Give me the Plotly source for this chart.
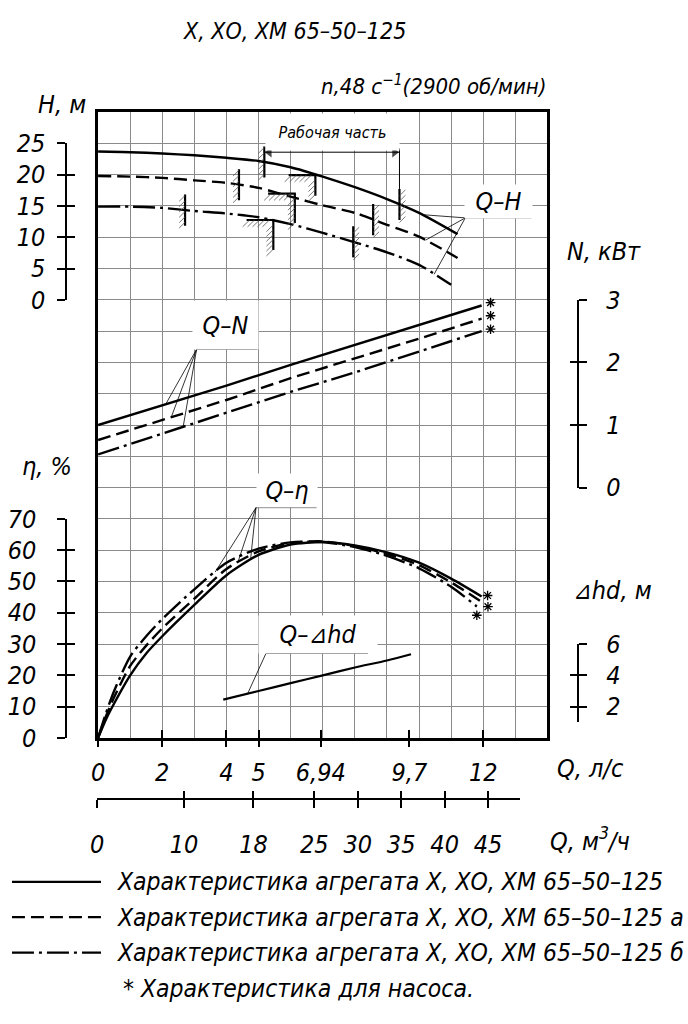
import numpy as np
import plotly.graph_objects as go

# ---------------- data ----------------
SERIES = ["Характеристика агрегата Х, ХО, ХМ 65–50–125",
          "Характеристика агрегата Х, ХО, ХМ 65–50–125 а",
          "Характеристика агрегата Х, ХО, ХМ 65–50–125 б"]

# Q-H  (Q, l/s ; H, m)
Q_H_1 = [0, 1, 2, 3, 4, 5, 6, 7, 8, 9, 10, 11.2]
H_1 = [23.7, 23.6, 23.4, 23.1, 22.7, 22.2, 21.2, 19.7, 18.0, 16.1, 13.9, 10.5]
Q_H_2 = [0, 1, 2, 3, 4, 5, 6, 7, 8, 9, 10, 11.2]
H_2 = [19.8, 19.7, 19.5, 19.1, 18.7, 17.9, 16.5, 15.1, 13.9, 12.0, 10.1, 6.7]
Q_H_3 = [0, 1, 2, 3, 4, 5, 6, 7, 8, 9, 10, 11]
H_3 = [14.9, 14.9, 14.7, 14.2, 13.8, 13.2, 12.1, 10.7, 9.2, 7.6, 5.6, 2.4]

# Q-N  (kW)
Q_N = [0, 2, 4, 6, 8, 10, 11.95]
N_1 = [1.00, 1.31, 1.63, 1.96, 2.28, 2.60, 2.91]
N_2 = [0.76, 1.08, 1.40, 1.75, 2.06, 2.38, 2.70]
N_3 = [0.53, 0.86, 1.19, 1.53, 1.84, 2.17, 2.50]

# Q-eta (%)
Q_ETA_1 = [0, 0.25, 0.5, 1, 1.5, 2, 3, 4, 5, 6, 7, 8, 9, 10, 11, 11.95]
ETA_1 = [0, 6, 11, 20, 27, 32.5, 42.5, 52, 58.5, 61.8, 62.6, 61.5, 59.3, 56, 50.9, 45.2]
Q_ETA_2 = [0, 0.25, 0.5, 1, 1.5, 2, 3, 4, 5, 6, 7, 8, 9, 10, 11, 11.9]
ETA_2 = [0, 7, 13, 23, 29.5, 35, 44.5, 54, 59.6, 62.3, 62.8, 61.3, 58.8, 55.2, 49.7, 43.8]
Q_ETA_3 = [0, 0.25, 0.5, 1, 1.5, 2, 3, 4, 5, 6, 7, 8, 9, 10, 11, 11.8]
ETA_3 = [0, 8, 15, 26, 32.5, 38, 47.5, 56, 60.5, 62.5, 62.6, 61.0, 58.2, 54.2, 48.3, 42.0]

# Q-dhd (m)
Q_DHD = [3.9, 5, 6, 7, 8, 9, 9.75]
DHD = [2.45, 3.0, 3.5, 4.0, 4.5, 4.95, 5.35]

# working range limits on the Q-H curves (l/s)
WORK_START = [5.18, 4.39, 2.71]
WORK_END = [9.39, 8.57, 7.95]
# limit brackets on the Q-H curves
LIMIT_Q = [6.77, 6.13, 5.46]
LIMIT_H = [19.95, 16.98, 12.76]
LIMIT_DROP = [3.3, 4.7, 4.8]

# tick values / labels
Q_LS_TICKS = [0, 2, 4, 5, 6.94, 9.7, 12]
Q_LS_TEXT = ["0", "2", "4", "5", "6,94", "9,7", "12"]
Q_M3_TICKS = [0, 10, 18, 25, 30, 35, 40, 45]
H_TICKS = [0, 5, 10, 15, 20, 25]
N_TICKS = [0, 1, 2, 3]
ETA_TICKS = [0, 10, 20, 30, 40, 50, 60, 70]
DHD_TICKS = [2, 4, 6]

# ---------------- helpers ----------------
W, HT = 688, 1024
FONT = "Liberation Sans Narrow, DejaVu Sans Condensed, Liberation Sans, sans-serif"


def px(x):
    return x / W


def py(y):
    return 1 - y / HT


ROW = (745 - 101) / 20.0          # grid cell height (px)
PXQ = (546 - 92) / 14.0           # px per l/s
PXH = ROW / 5.0                   # px per m of head
PXN = ROW * 2.0                   # px per kW
PXE = ROW / 10.0                  # px per % of efficiency


def dq(p):
    return p / PXQ


def dh(p):
    return p / PXH


def F(size=26):
    return dict(family=FONT, size=size, color="black", style="italic")


DASH = ["solid", "13px,6px", "22px,5px,3px,5px"]
GRID = "#8a8a8a"
Q_H = [Q_H_1, Q_H_2, Q_H_3]
H_ALL = [H_1, H_2, H_3]
N_ALL = [N_1, N_2, N_3]
Q_ETA = [Q_ETA_1, Q_ETA_2, Q_ETA_3]
ETA_ALL = [ETA_1, ETA_2, ETA_3]

fig = go.Figure()


def line(x, y, ya="y", xa="x", width=2.4, dash="solid", color="black", shape="linear", name=None):
    fig.add_trace(go.Scatter(x=x, y=y, xaxis=xa, yaxis=ya, mode="lines",
                             line=dict(color=color, width=width, dash=dash, shape=shape,
                                       smoothing=0.7 if shape == "spline" else None),
                             name=name, showlegend=False, hoverinfo="skip"))


# ---- main curves ----
for i in range(3):
    line(Q_H[i], H_ALL[i], "y", dash=DASH[i], shape="spline", name=SERIES[i])
    line(Q_N, N_ALL[i], "y2", dash=DASH[i], name=SERIES[i])
    line(Q_ETA[i], ETA_ALL[i], "y3", dash=DASH[i], shape="spline", name=SERIES[i])
line(Q_DHD, DHD, "y4", width=2.2, shape="spline", name="Q-Δhd")

# ---- working range markers with hatching ----
mx, my, hx, hy = [], [], [], []
for i in range(3):
    for q, side in ((WORK_START[i], -1), (WORK_END[i], 1)):
        hc = float(np.interp(q, Q_H[i], H_ALL[i]))
        mx += [q, q, None]
        my += [hc + dh(16), hc - dh(16), None]
        for k in range(6):
            yt = hc + dh(15) - k * dh(5.5)
            if side < 0:
                hx += [q - dq(6), q, None]
            else:
                hx += [q, q + dq(6), None]
            hy += [yt - dh(6), yt, None]
    # limit bracket
    lq, lh, dr = LIMIT_Q[i], LIMIT_H[i], LIMIT_DROP[i]
    mx += [lq - dq(27), lq + dq(1), None, lq, lq, None]
    my += [lh, lh, None, lh, lh - dr, None]
    for k in range(5):
        qk = lq - dq(24) + k * dq(5)
        hx += [qk - dq(7), qk, None]
        hy += [lh - dh(7), lh, None]
    nk = int(dr / dh(5))
    for k in range(1, nk + 1):
        hk = lh - k * dh(5)
        hx += [lq - dq(7), lq, None]
        hy += [hk - dh(7), hk, None]
line(mx, my, "y", width=2.2)
line(hx, hy, "y", width=0.8, color="#555")
# extension line of the working zone
hc_end = float(np.interp(WORK_END[0], Q_H_1, H_1))
line([WORK_END[0], WORK_END[0]], [24.2, hc_end + dh(16)], "y", width=1)
# dimension line "Рабочая часть" with arrowheads
DIM_H = 23.6
line([WORK_START[0], WORK_END[0]], [DIM_H, DIM_H], "y", width=1)
fig.add_trace(go.Scatter(x=[WORK_START[0] + dq(5), WORK_END[0] - dq(5)], y=[DIM_H, DIM_H],
                         xaxis="x", yaxis="y", mode="markers",
                         marker=dict(symbol=["triangle-left", "triangle-right"], size=[9, 9],
                                     color="black", line=dict(width=0)),
                         showlegend=False, hoverinfo="skip"))

# ---- leaders ----
lx, ly = [], []
# Q-H
apex = (11.44, 13.1)
lx += [13.5, apex[0], None]
ly += [apex[1], apex[1], None]
for i, q in enumerate([10.1, 10.2, 10.47]):
    lx += [apex[0], q, None]
    ly += [apex[1], float(np.interp(q, Q_H[i], H_ALL[i])), None]
line(lx, ly, "y", width=0.8)
# Q-N
lx, ly = [], []
apex = (3.07, 2.21)
lx += [4.97, apex[0], None]
ly += [apex[1], apex[1], None]
for i, q in enumerate([2.1, 2.28, 2.65]):
    lx += [apex[0], q, None]
    ly += [apex[1], float(np.interp(q, Q_N, N_ALL[i])), None]
line(lx, ly, "y2", width=0.8)
# Q-eta
lx, ly = [], []
apex = (4.92, 73.6)
lx += [6.81, apex[0], None]
ly += [apex[1], apex[1], None]
for i, q in enumerate([4.75, 4.35, 3.65]):
    lx += [apex[0], q, None]
    ly += [apex[1], float(np.interp(q, Q_ETA[i], ETA_ALL[i])), None]
line(lx, ly, "y3", width=0.8)
# Q-dhd
apex = (5.23, 5.4)
q = 4.66
line([8.41, apex[0], q], [apex[1], apex[1], float(np.interp(q, Q_DHD, DHD))], "y4", width=0.8)

# ---- stars (pump-only characteristic), placed next to the curve ends ----
STAR = dict(symbol="asterisk-open", size=8, color="black", line=dict(width=1.3, color="black"))
fig.add_trace(go.Scatter(x=[Q_N[-1] + dq(9)] * 3,
                         y=[N_1[-1] + 3 / PXN, N_2[-1] + 3 / PXN, N_3[-1] + 2 / PXN],
                         xaxis="x", yaxis="y2", mode="markers", marker=STAR,
                         showlegend=False, hoverinfo="skip"))
fig.add_trace(go.Scatter(x=[Q_ETA_1[-1] + dq(6), Q_ETA_2[-1] + dq(8), Q_ETA_3[-1]],
                         y=[ETA_1[-1] + 1 / PXE, ETA_2[-1] - 6 / PXE, ETA_3[-1] - 9 / PXE],
                         xaxis="x", yaxis="y3", mode="markers", marker=STAR,
                         showlegend=False, hoverinfo="skip"))

# ---- dummy traces so that scale axes get their own subplots ----
for xa, ya in [("x2", "y"), ("x3", "y"), ("x6", "y5"), ("x6", "y6"), ("x6", "y7"), ("x6", "y8"),
               ("x6", "y9"), ("x6", "y10"), ("x6", "y11"), ("x6", "y12"), ("x4", "y13"), ("x5", "y13")]:
    fig.add_trace(go.Scatter(x=[], y=[], xaxis=xa, yaxis=ya, showlegend=False, hoverinfo="skip"))

# ---- legend samples ----
for i in range(3):
    fig.add_trace(go.Scatter(x=[0, 1], y=[i, i], xaxis="x7", yaxis="y14", mode="lines",
                             line=dict(color="black", width=2.2, dash=DASH[i]),
                             showlegend=False, hoverinfo="skip"))

# ---------------- axes ----------------
NOAX = dict(showgrid=False, zeroline=False, fixedrange=True)


def scale_axes(dom, rng, tickvals, pos, side, standoff):
    base = dict(domain=dom, range=rng, anchor="free", position=pos, side=side, tickvals=tickvals,
                ticks="outside", ticklen=8, tickwidth=2, tickcolor="black", showline=True,
                linewidth=2, linecolor="black", tickfont=F(25), ticklabelstandoff=standoff, **NOAX)
    over = dict(range=rng, anchor="free", position=pos, side=side, tickvals=tickvals,
                ticks="inside", ticklen=8, tickwidth=2, tickcolor="black", showline=False,
                showticklabels=False, **NOAX)
    return base, over


ybot = 745
ys5, ys6 = scale_axes([py(ybot - 14 * ROW), py(ybot - 19 * ROW)], [0, 25], H_TICKS, px(60), "left", 7)
ys7, ys8 = scale_axes([py(ybot - 8 * ROW), py(ybot - 14 * ROW)], [0, 3], N_TICKS, px(577), "right", 14)
ys9, ys10 = scale_axes([py(ybot), py(ybot - 7 * ROW)], [0, 70], ETA_TICKS, px(60), "left", 16)
ys11, ys12 = scale_axes([py(ybot - 0.5 * ROW), py(ybot - 3 * ROW)], [1, 6], DHD_TICKS, px(577), "right", 14)
ys6["overlaying"] = "y5"
ys8["overlaying"] = "y7"
ys10["overlaying"] = "y9"
ys12["overlaying"] = "y11"

layout = dict(
    width=W, height=HT, margin=dict(l=0, r=0, t=0, b=0),
    paper_bgcolor="white", plot_bgcolor="rgba(0,0,0,0)", showlegend=False,
    xaxis=dict(domain=[px(92), px(546)], range=[0, 14], anchor="y", dtick=1, tick0=0,
               showgrid=True, gridcolor=GRID, gridwidth=1, showticklabels=False, ticks="",
               showline=True, linewidth=2.5, linecolor="black", mirror=True, zeroline=False, fixedrange=True),
    yaxis=dict(domain=[py(745), py(101)], range=[-70, 30], anchor="x", dtick=5, tick0=0,
               showgrid=True, gridcolor=GRID, gridwidth=1, showticklabels=False, ticks="",
               showline=True, linewidth=2.5, linecolor="black", mirror=True, zeroline=False, fixedrange=True),
    yaxis2=dict(overlaying="y", anchor="x", range=[-4, 6], visible=False, **NOAX),
    yaxis3=dict(overlaying="y", anchor="x", range=[0, 200], visible=False, **NOAX),
    yaxis4=dict(overlaying="y", anchor="x", range=[0, 40], visible=False, **NOAX),
    xaxis2=dict(overlaying="x", anchor="y", side="bottom", range=[0, 14], tickvals=Q_LS_TICKS,
                ticktext=Q_LS_TEXT, ticks="outside", ticklen=8, tickwidth=2, tickcolor="black",
                showline=False, tickfont=F(25), ticklabelstandoff=4, **NOAX),
    xaxis3=dict(overlaying="x", anchor="y", side="bottom", range=[0, 14], tickvals=Q_LS_TICKS,
                ticks="inside", ticklen=8, tickwidth=2, tickcolor="black", showline=False,
                showticklabels=False, **NOAX),
    xaxis4=dict(domain=[px(91), px(518.5)], range=[0, 48.7], anchor="free", position=py(808),
                side="bottom", tickvals=Q_M3_TICKS, ticks="outside", ticklen=8, tickwidth=2,
                tickcolor="black", showline=True, linewidth=2, linecolor="black",
                tickfont=F(25), ticklabelstandoff=15, **NOAX),
    xaxis5=dict(overlaying="x4", range=[0, 48.7], anchor="free", position=py(808), side="bottom",
                tickvals=Q_M3_TICKS, ticks="inside", ticklen=8, tickwidth=2, tickcolor="black",
                showline=False, showticklabels=False, **NOAX),
    xaxis6=dict(domain=[0.995, 1.0], range=[0, 1], anchor="y5", visible=False, **NOAX),
    yaxis5=ys5, yaxis6=ys6, yaxis7=ys7, yaxis8=ys8, yaxis9=ys9, yaxis10=ys10,
    yaxis11=ys11, yaxis12=ys12,
    yaxis13=dict(domain=[0, 0.005], range=[0, 1], anchor="x4", visible=False, **NOAX),
    xaxis7=dict(domain=[px(5), px(95)], range=[0, 1], anchor="y14", visible=False, **NOAX),
    yaxis14=dict(domain=[py(975), py(884)], range=[2.25, -0.25], anchor="x7", visible=False, **NOAX),
)
fig.update_layout(**layout)

# ---------------- texts ----------------
ann = []


def txt(x, y, text, size=26, xanchor="left", **kw):
    ann.append(dict(xref="paper", yref="paper", x=px(x), y=py(y), text=text, showarrow=False,
                    font=F(size), xanchor=xanchor, yanchor="middle", borderpad=0, **kw))


def box(x0, x1, y0, y1, text, size=26):
    ann.append(dict(xref="paper", yref="paper", x=px((x0 + x1) / 2), y=py((y0 + y1) / 2),
                    text=text, showarrow=False, font=F(size), xanchor="center", yanchor="middle",
                    bgcolor="white", width=x1 - x0, height=y1 - y0, borderpad=0, align="center",
                    valign="middle"))


txt(290, 18, "Х, ХО, ХМ 65–50–125", 23, xanchor="center")
txt(546, 73, "n,48 с<sup>−1</sup>(2900 об/мин)", 22, xanchor="right")
txt(30, 93, "Н, м", 25)
txt(565, 244, "N, кВт", 25)
txt(14, 466, "η, %", 25)
txt(571, 593, "⊿hd, м", 25)
txt(555, 776, "Q, л/с", 25)
txt(548, 850, "Q, м<sup>3</sup>/ч", 25)

box(262, 395, 103, 139, "Рабочая часть", 16)
box(463, 530, 176, 209, "Q–H", 25)
box(188, 253, 296, 344, "Q–N", 25)
box(253, 313, 474, 507, "Q–η", 25)
box(255, 373, 620, 657, "Q–⊿hd", 25)

for i, yy in enumerate([893, 930, 966]):
    txt(110, yy, SERIES[i], 24.5)
txt(116, 1003, "* Характеристика для насоса.", 24.5)

fig.update_layout(annotations=ann)
fig.write_html("out.html")
